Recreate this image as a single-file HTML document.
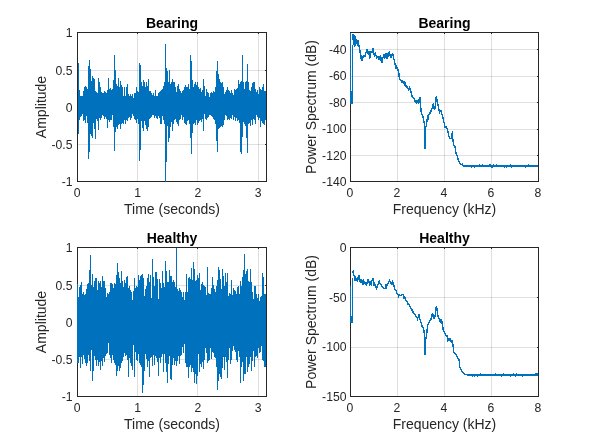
<!DOCTYPE html>
<html><head><meta charset="utf-8"><style>
html,body{margin:0;padding:0;background:#fff;width:595px;height:446px;overflow:hidden}
svg{display:block;will-change:transform}
text{font-family:"Liberation Sans",sans-serif;fill:#262626}
</style></head><body>
<svg width="595" height="446" viewBox="0 0 595 446">
<rect width="595" height="446" fill="#fff"/>
<path d="M137.5 33V181M197.5 33V181M258.5 33V181" stroke="#262626" stroke-opacity="0.15" stroke-width="1" fill="none"/>
<path d="M78 144.5H266M78 107.5H266M78 70.5H266" stroke="#262626" stroke-opacity="0.15" stroke-width="1" fill="none"/>
<rect x="77.5" y="32.5" width="189" height="149" fill="none" stroke="#262626" stroke-width="1"/>
<path d="M137.5 33v1M197.5 33v1M258.5 33v1M266 144.5h-1M266 107.5h-1M266 70.5h-1" stroke="#262626" stroke-width="1" fill="none"/>
<path d="M78.5 63V134M79.5 90V120M80.5 96V117M81.5 96V116M82.5 96V114M83.5 91V121M84.5 87V120M85.5 86V123M86.5 87V116M87.5 89V123M88.5 66V159M89.5 60V152M90.5 69V134M91.5 81V136M92.5 76V138M93.5 78V123M94.5 79V129M95.5 91V139M96.5 92V119M97.5 93V121M98.5 78V130M99.5 82V118M100.5 87V120M101.5 92V118M102.5 93V115M103.5 93V116M104.5 91V119M105.5 92V117M106.5 93V119M107.5 90V128M108.5 78V120M109.5 89V122M110.5 88V120M111.5 90V120M112.5 89V115M113.5 80V127M114.5 55V151M115.5 70V132M116.5 84V127M117.5 86V129M118.5 78V125M119.5 87V124M120.5 81V129M121.5 85V124M122.5 87V123M123.5 96V124M124.5 87V120M125.5 96V124M126.5 87V120M127.5 84V121M128.5 94V118M129.5 96V117M130.5 94V120M131.5 96V118M132.5 94V114M133.5 98V116M134.5 93V119M135.5 93V120M136.5 87V123M137.5 91V119M138.5 92V124M139.5 63V161M140.5 65V150M141.5 82V121M142.5 86V128M143.5 80V131M144.5 82V121M145.5 87V125M146.5 82V129M147.5 86V131M148.5 79V127M149.5 91V119M150.5 91V118M151.5 93V117M152.5 95V115M153.5 93V115M154.5 96V118M155.5 90V116M156.5 96V118M157.5 96V119M158.5 93V116M159.5 92V118M160.5 91V124M161.5 90V124M162.5 89V116M163.5 86V120M164.5 82V124M165.5 44V182M166.5 68V162M167.5 71V126M168.5 82V142M169.5 70V138M170.5 84V127M171.5 82V122M172.5 79V131M173.5 82V124M174.5 82V120M175.5 87V119M176.5 92V122M177.5 86V124M178.5 84V126M179.5 89V120M180.5 91V119M181.5 93V115M182.5 91V120M183.5 90V117M184.5 87V123M185.5 85V124M186.5 87V125M187.5 87V121M188.5 84V120M189.5 89V124M190.5 55V138M191.5 61V154M192.5 80V133M193.5 87V124M194.5 84V123M195.5 82V125M196.5 85V120M197.5 82V125M198.5 87V123M199.5 89V121M200.5 88V120M201.5 92V122M202.5 90V119M203.5 79V131M204.5 86V114M205.5 96V119M206.5 89V120M207.5 92V118M208.5 93V117M209.5 97V115M210.5 93V115M211.5 92V116M212.5 93V117M213.5 91V119M214.5 92V120M215.5 87V124M216.5 71V141M217.5 61V152M218.5 74V129M219.5 79V128M220.5 82V127M221.5 83V126M222.5 82V127M223.5 87V125M224.5 94V120M225.5 92V115M226.5 90V116M227.5 87V120M228.5 90V119M229.5 91V120M230.5 93V118M231.5 90V119M232.5 93V115M233.5 95V120M234.5 89V117M235.5 90V121M236.5 89V118M237.5 88V121M238.5 80V120M239.5 84V123M240.5 82V152M241.5 81V154M242.5 55V137M243.5 82V122M244.5 89V124M245.5 82V126M246.5 81V138M247.5 64V153M248.5 82V124M249.5 90V123M250.5 91V126M251.5 87V120M252.5 83V125M253.5 82V119M254.5 82V120M255.5 89V124M256.5 92V115M257.5 90V117M258.5 94V120M259.5 87V118M260.5 89V127M261.5 90V121M262.5 87V123M263.5 84V124M264.5 91V125M265.5 91V120" stroke="#0072bd" stroke-width="1" fill="none"/>
<text x="77.20" y="197" text-anchor="middle" font-size="12.2">0</text>
<text x="137.53" y="197" text-anchor="middle" font-size="12.2">1</text>
<text x="197.86" y="197" text-anchor="middle" font-size="12.2">2</text>
<text x="258.19" y="197" text-anchor="middle" font-size="12.2">3</text>
<text x="72.5" y="185.80" text-anchor="end" font-size="12.2">-1</text>
<text x="72.5" y="148.80" text-anchor="end" font-size="12.2">-0.5</text>
<text x="72.5" y="111.80" text-anchor="end" font-size="12.2">0</text>
<text x="72.5" y="74.80" text-anchor="end" font-size="12.2">0.5</text>
<text x="72.5" y="36.80" text-anchor="end" font-size="12.2">1</text>
<text x="172.0" y="27.5" text-anchor="middle" font-size="14" font-weight="bold" style="fill:#000">Bearing</text>
<text x="172.0" y="214" text-anchor="middle" font-size="14">Time (seconds)</text>
<text transform="translate(46 107.0) rotate(-90)" text-anchor="middle" font-size="14">Amplitude</text>
<path d="M137.5 248V396M197.5 248V396M258.5 248V396" stroke="#262626" stroke-opacity="0.15" stroke-width="1" fill="none"/>
<path d="M78 359.5H266M78 322.5H266M78 285.5H266" stroke="#262626" stroke-opacity="0.15" stroke-width="1" fill="none"/>
<rect x="77.5" y="247.5" width="189" height="149" fill="none" stroke="#262626" stroke-width="1"/>
<path d="M137.5 248v1M197.5 248v1M258.5 248v1M266 359.5h-1M266 322.5h-1M266 285.5h-1" stroke="#262626" stroke-width="1" fill="none"/>
<path d="M77.5 284V363M78.5 297V363M79.5 287V357M80.5 285V368M81.5 282V357M82.5 294V364M83.5 292V355M84.5 295V359M85.5 294V363M86.5 289V366M87.5 284V363M88.5 283V355M89.5 270V361M90.5 255V371M91.5 285V350M92.5 274V381M93.5 287V371M94.5 281V356M95.5 278V360M96.5 278V366M97.5 290V360M98.5 281V366M99.5 283V362M100.5 281V370M101.5 287V361M102.5 276V366M103.5 281V358M104.5 281V362M105.5 288V356M106.5 297V354M107.5 293V353M108.5 294V343M109.5 292V355M110.5 283V358M111.5 283V363M112.5 284V355M113.5 288V360M114.5 283V363M115.5 284V365M116.5 275V376M117.5 263V371M118.5 272V366M119.5 278V371M120.5 283V368M121.5 271V363M122.5 281V361M123.5 287V357M124.5 280V353M125.5 283V356M126.5 277V355M127.5 276V360M128.5 288V377M129.5 286V358M130.5 290V363M131.5 292V366M132.5 300V370M133.5 291V345M134.5 278V377M135.5 288V352M136.5 286V360M137.5 287V361M138.5 275V354M139.5 280V363M140.5 276V365M141.5 275V367M142.5 274V393M143.5 278V385M144.5 296V371M145.5 289V354M146.5 286V359M147.5 278V367M148.5 274V361M149.5 282V377M150.5 275V358M151.5 298V357M152.5 259V366M153.5 277V355M154.5 286V365M155.5 272V356M156.5 272V358M157.5 279V362M158.5 299V376M159.5 279V358M160.5 283V363M161.5 288V357M162.5 271V354M163.5 283V372M164.5 287V354M165.5 261V363M166.5 271V372M167.5 282V383M168.5 282V364M169.5 270V356M170.5 276V379M171.5 276V380M172.5 282V365M173.5 280V358M174.5 282V365M175.5 287V361M176.5 248V366M177.5 289V361M178.5 291V356M179.5 288V364M180.5 290V356M181.5 292V355M182.5 297V347M183.5 292V353M184.5 300V344M185.5 292V363M186.5 274V367M187.5 292V367M188.5 278V378M189.5 277V367M190.5 279V365M191.5 268V372M192.5 280V368M193.5 262V372M194.5 269V383M195.5 281V374M196.5 280V384M197.5 275V376M198.5 278V354M199.5 273V372M200.5 290V364M201.5 284V367M202.5 282V362M203.5 285V369M204.5 286V360M205.5 287V348M206.5 295V353M207.5 267V363M208.5 293V361M209.5 294V360M210.5 294V348M211.5 288V359M212.5 277V352M213.5 285V353M214.5 289V357M215.5 292V358M216.5 286V367M217.5 280V390M218.5 267V381M219.5 270V374M220.5 279V377M221.5 289V379M222.5 269V368M223.5 276V357M224.5 286V370M225.5 273V357M226.5 282V362M227.5 273V378M228.5 296V360M229.5 293V348M230.5 294V364M231.5 280V360M232.5 295V351M233.5 288V346M234.5 290V350M235.5 291V352M236.5 294V360M237.5 287V362M238.5 286V351M239.5 294V357M240.5 281V383M241.5 286V367M242.5 277V362M243.5 270V381M244.5 254V374M245.5 274V374M246.5 271V357M247.5 269V372M248.5 281V367M249.5 282V364M250.5 269V357M251.5 282V371M252.5 292V361M253.5 299V351M254.5 286V367M255.5 286V357M256.5 294V356M257.5 298V358M258.5 294V348M259.5 301V353M260.5 297V352M261.5 296V346M262.5 273V360M263.5 277V361M264.5 294V367M265.5 294V367" stroke="#0072bd" stroke-width="1" fill="none"/>
<text x="77.20" y="412" text-anchor="middle" font-size="12.2">0</text>
<text x="137.53" y="412" text-anchor="middle" font-size="12.2">1</text>
<text x="197.86" y="412" text-anchor="middle" font-size="12.2">2</text>
<text x="258.19" y="412" text-anchor="middle" font-size="12.2">3</text>
<text x="72.5" y="400.80" text-anchor="end" font-size="12.2">-1</text>
<text x="72.5" y="363.80" text-anchor="end" font-size="12.2">-0.5</text>
<text x="72.5" y="326.80" text-anchor="end" font-size="12.2">0</text>
<text x="72.5" y="289.80" text-anchor="end" font-size="12.2">0.5</text>
<text x="72.5" y="251.80" text-anchor="end" font-size="12.2">1</text>
<text x="172.0" y="242.5" text-anchor="middle" font-size="14" font-weight="bold" style="fill:#000">Healthy</text>
<text x="172.0" y="429" text-anchor="middle" font-size="14">Time (seconds)</text>
<text transform="translate(46 322.0) rotate(-90)" text-anchor="middle" font-size="14">Amplitude</text>
<path d="M397.5 33V181M444.5 33V181M491.5 33V181" stroke="#262626" stroke-opacity="0.15" stroke-width="1" fill="none"/>
<path d="M351 155.5H538M351 129.5H538M351 102.5H538M351 76.5H538M351 49.5H538" stroke="#262626" stroke-opacity="0.15" stroke-width="1" fill="none"/>
<rect x="350.5" y="32.5" width="188" height="149" fill="none" stroke="#262626" stroke-width="1"/>
<path d="M397.5 33v1M444.5 33v1M491.5 33v1M538 155.5h-1M538 129.5h-1M538 102.5h-1M538 76.5h-1M538 49.5h-1" stroke="#262626" stroke-width="1" fill="none"/>
<path d="M350.5,33V104M351.5,91V104M352.5,45V104" stroke="#0072bd" stroke-width="1" fill="none"/><path d="M353.0,34.0 353.4,44.8 353.8,34.8 354.4,46.5 354.8,35.6 355.3,46.4 355.7,36.3 356.1,44.3 356.7,40.2 357.1,40.8 357.5,45.5 357.9,41.9 358.4,41.3 358.9,46.9 359.5,45.4 360.0,52.5 360.4,52.7 360.8,57.2 361.1,58.4 361.5,54.9 361.8,56.1 362.2,60.6 362.4,59.9 362.8,56.8 363.1,57.1 363.8,55.7 364.5,56.4 365.1,56.4 365.8,53.4 366.5,50.7 367.1,49.0 367.5,53.3 367.8,53.2 368.5,53.9 368.9,51.5 369.2,53.4 369.8,58.6 370.2,53.1 370.5,51.9 371.2,52.6 371.8,51.5 372.5,51.9 373.2,48.0 373.6,52.5 373.9,53.7 374.5,56.9 375.2,53.2 375.9,55.2 376.6,57.7 377.2,57.1 377.9,56.5 378.6,57.3 379.2,59.9 379.6,56.4 379.9,57.4 380.3,61.3 380.7,55.4 381.3,61.8 381.7,56.6 382.1,62.5 382.6,60.4 383.0,56.7 383.4,58.2 383.9,54.3 384.6,59.1 385.3,56.3 386.0,53.1 386.6,56.4 387.0,59.4 387.4,53.9 388.0,54.9 388.7,56.7 389.3,51.3 390.0,55.0 390.7,58.2 391.3,55.1 392.0,54.4 392.7,53.8 393.4,57.1 394.0,59.4 394.7,62.5 395.4,66.1 396.0,68.2 396.7,66.3 397.4,68.9 398.1,70.1 398.7,71.8 399.4,78.5 400.1,79.2 400.7,80.0 401.4,80.9 402.1,82.5 402.8,81.3 403.4,83.2 404.1,82.2 404.8,84.2 405.5,83.0 406.1,86.2 406.8,86.3 407.5,88.4 408.1,89.1 408.8,90.0 409.5,86.6 410.2,89.9 410.8,91.3 412.1,96.2 413.4,97.7 414.8,99.6 415.5,102.7 416.1,100.1 416.8,102.8 417.5,101.6 418.1,102.4 418.8,99.1 419.5,102.5 420.2,96.9 420.4,104.5 420.8,107.9 421.5,114.0 422.2,115.3 422.8,116.0 423.5,119.3 424.2,123.2 424.6,126.1 424.9,148.6 425.5,127.5 426.2,126.2 426.9,121.3 427.6,115.3 428.0,120.1 428.5,115.7 428.9,114.9 429.6,113.8 430.9,111.2 431.6,109.6 432.3,107.6 432.9,104.9 433.3,104.3 433.9,108.6 434.3,106.9 434.7,109.6 435.2,106.1 436.0,99.8 436.3,96.2 437.0,100.7 437.6,103.5 438.3,106.8 439.0,110.1 439.7,112.2 440.3,111.4 441.0,110.4 441.7,113.4 442.7,116.0 443.7,121.7 444.4,123.7 445.0,127.0 445.7,126.5 446.4,127.7 447.0,128.9 447.7,130.4 448.4,133.5 449.1,137.1 449.7,138.0 450.4,138.4 451.7,138.2 452.4,131.3 452.8,139.0 453.8,145.1 454.4,146.5 455.1,147.0 455.8,152.5 457.1,155.3 457.6,156.3 458.1,159.6 458.6,161.0 459.1,161.8 459.6,163.5 460.1,163.6 461.1,164.5 462.1,164.0 462.6,165.1 463.6,166.7" stroke="#0072bd" stroke-width="1.4" fill="none" shape-rendering="crispEdges"/><path d="M464.5 165V167M465.5 165V167M466.5 165V167M467.5 165V167M468.5 165V167M469.5 165V167M470.5 165V167M471.5 165V168M472.5 165V167M473.5 165V167M474.5 165V168M475.5 165V167M476.5 165V167M477.5 165V167M478.5 165V167M479.5 164V167M480.5 165V167M481.5 165V167M482.5 164V167M483.5 165V167M484.5 165V167M485.5 165V167M486.5 165V167M487.5 165V167M488.5 165V167M489.5 164V167M490.5 164V167M491.5 165V168M492.5 165V168M493.5 164V167M494.5 165V167M495.5 165V167M496.5 164V167M497.5 165V167M498.5 165V167M499.5 165V167M500.5 165V167M501.5 165V167M502.5 165V167M503.5 165V167M504.5 165V168M505.5 165V167M506.5 165V168M507.5 165V167M508.5 165V167M509.5 165V167M510.5 164V167M511.5 165V168M512.5 165V167M513.5 165V167M514.5 165V167M515.5 165V167M516.5 165V167M517.5 165V167M518.5 165V167M519.5 165V167M520.5 165V167M521.5 165V167M522.5 165V167M523.5 165V167M524.5 165V167M525.5 165V168M526.5 165V167M527.5 165V167M528.5 164V167M529.5 165V167M530.5 165V167M531.5 165V167M532.5 165V167M533.5 165V167M534.5 165V167M535.5 165V167M536.5 165V167M537.5 165V167" stroke="#0072bd" stroke-width="1" fill="none"/>
<text x="350.00" y="197" text-anchor="middle" font-size="12.2">0</text>
<text x="397.00" y="197" text-anchor="middle" font-size="12.2">2</text>
<text x="444.00" y="197" text-anchor="middle" font-size="12.2">4</text>
<text x="491.00" y="197" text-anchor="middle" font-size="12.2">6</text>
<text x="538.00" y="197" text-anchor="middle" font-size="12.2">8</text>
<text x="346.5" y="186.40" text-anchor="end" font-size="12.2">-140</text>
<text x="346.5" y="159.90" text-anchor="end" font-size="12.2">-120</text>
<text x="346.5" y="133.40" text-anchor="end" font-size="12.2">-100</text>
<text x="346.5" y="106.90" text-anchor="end" font-size="12.2">-80</text>
<text x="346.5" y="80.40" text-anchor="end" font-size="12.2">-60</text>
<text x="346.5" y="53.90" text-anchor="end" font-size="12.2">-40</text>
<text x="444.5" y="27.5" text-anchor="middle" font-size="14" font-weight="bold" style="fill:#000">Bearing</text>
<text x="444.5" y="214" text-anchor="middle" font-size="14">Frequency (kHz)</text>
<text transform="translate(316 107.0) rotate(-90)" text-anchor="middle" font-size="14">Power Spectrum (dB)</text>
<path d="M397.5 248V396M444.5 248V396M491.5 248V396" stroke="#262626" stroke-opacity="0.15" stroke-width="1" fill="none"/>
<path d="M351 347.5H538M351 297.5H538" stroke="#262626" stroke-opacity="0.15" stroke-width="1" fill="none"/>
<rect x="350.5" y="247.5" width="188" height="149" fill="none" stroke="#262626" stroke-width="1"/>
<path d="M397.5 248v1M444.5 248v1M491.5 248v1M538 347.5h-1M538 297.5h-1" stroke="#262626" stroke-width="1" fill="none"/>
<path d="M350.5,286V323M351.5,316V323M352.5,278V323" stroke="#0072bd" stroke-width="1" fill="none"/><path d="M353.0,270.5 353.4,275.6 353.8,275.2 354.4,275.6 355.0,280.8 355.7,277.9 356.4,278.9 357.1,280.4 357.7,277.3 358.4,279.6 359.1,275.4 359.5,279.3 359.8,281.0 360.4,280.5 361.1,282.1 361.8,280.2 362.4,281.6 363.1,284.8 363.8,281.1 364.5,282.8 365.1,282.7 365.8,283.0 366.5,286.1 367.1,282.3 367.8,279.3 368.5,282.3 369.2,282.1 369.8,284.6 370.5,282.8 371.2,283.9 371.8,281.2 372.5,279.7 372.9,278.2 373.5,283.2 373.9,284.9 374.5,283.5 375.2,285.5 375.9,287.4 376.6,288.7 377.2,286.0 377.9,285.1 378.6,283.3 379.2,281.5 379.9,283.2 380.6,283.6 381.3,284.9 381.9,286.3 382.6,286.9 383.3,288.4 383.9,288.9 384.6,288.6 385.3,287.7 386.0,283.7 386.6,286.5 387.3,284.4 388.0,283.7 388.7,282.5 389.3,280.3 390.0,281.9 390.7,283.2 391.3,282.9 392.0,284.2 392.7,281.7 393.4,282.9 394.0,286.5 394.7,288.9 395.4,289.3 396.0,290.5 396.7,292.9 397.4,293.6 398.1,295.0 398.7,296.3 399.4,294.8 400.1,295.1 400.7,295.7 401.4,294.9 402.8,294.5 403.4,295.7 404.1,298.3 404.8,297.2 405.5,299.8 406.1,300.1 406.8,301.1 407.5,303.0 408.1,304.2 408.8,304.0 409.5,305.9 410.2,307.0 410.8,307.9 411.5,308.5 412.2,310.4 412.8,311.0 413.5,313.4 414.2,313.4 414.9,314.3 415.5,314.9 416.1,316.5 416.8,317.2 417.5,318.9 418.1,317.5 418.8,313.7 419.5,317.9 420.2,320.0 420.8,321.8 421.5,324.1 422.2,326.8 422.8,327.2 423.5,327.9 424.2,332.5 424.9,340.5 425.1,355.0 425.8,339.4 426.9,331.9 427.6,325.2 428.2,324.6 428.9,323.1 429.6,321.1 430.2,320.6 430.9,319.3 431.6,315.8 432.3,313.9 432.9,314.6 433.6,318.7 434.3,318.4 434.7,317.0 435.6,313.0 436.3,305.8 437.0,309.2 437.6,314.6 438.3,316.9 439.0,318.4 439.7,319.6 440.3,322.0 441.0,320.1 441.4,318.8 441.9,321.8 442.3,324.3 443.0,328.8 443.7,331.5 444.4,332.3 445.0,333.1 445.7,334.7 446.4,335.8 447.0,335.8 447.7,340.8 448.4,340.1 449.1,338.5 449.7,339.5 450.4,338.8 451.1,341.3 451.7,342.0 452.4,340.1 453.1,345.9 453.8,351.9 454.4,353.5 455.1,353.5 455.8,354.7 456.5,355.7 457.1,356.7 457.8,357.8 459.1,359.5 459.6,366.7 460.6,369.0 461.6,370.5 462.6,372.4 463.6,373.3 465.1,374.2 466.6,375.2" stroke="#0072bd" stroke-width="1.4" fill="none" shape-rendering="crispEdges"/><path d="M467.5 374V376M468.5 374V376M469.5 374V376M470.5 374V376M471.5 374V376M472.5 374V377M473.5 374V376M474.5 374V377M475.5 374V376M476.5 374V376M477.5 374V377M478.5 374V376M479.5 374V376M480.5 373V376M481.5 374V376M482.5 374V376M483.5 374V376M484.5 374V376M485.5 374V376M486.5 374V376M487.5 374V376M488.5 374V376M489.5 374V376M490.5 374V376M491.5 374V376M492.5 374V376M493.5 374V376M494.5 374V376M495.5 373V376M496.5 374V376M497.5 374V376M498.5 374V376M499.5 374V376M500.5 374V376M501.5 374V377M502.5 374V376M503.5 373V376M504.5 374V376M505.5 374V376M506.5 374V376M507.5 374V376M508.5 374V376M509.5 374V376M510.5 374V377M511.5 374V376M512.5 374V376M513.5 373V376M514.5 374V376M515.5 374V377M516.5 373V376M517.5 374V376M518.5 374V376M519.5 374V376M520.5 374V376M521.5 374V376M522.5 374V377M523.5 374V376M524.5 374V376M525.5 374V376M526.5 374V376M527.5 374V376M528.5 374V376M529.5 374V376M530.5 374V376M531.5 374V376M532.5 374V376M533.5 374V376M534.5 374V376M535.5 373V376M536.5 373V376M537.5 373V376" stroke="#0072bd" stroke-width="1" fill="none"/>
<text x="350.00" y="412" text-anchor="middle" font-size="12.2">0</text>
<text x="397.00" y="412" text-anchor="middle" font-size="12.2">2</text>
<text x="444.00" y="412" text-anchor="middle" font-size="12.2">4</text>
<text x="491.00" y="412" text-anchor="middle" font-size="12.2">6</text>
<text x="538.00" y="412" text-anchor="middle" font-size="12.2">8</text>
<text x="346.5" y="400.80" text-anchor="end" font-size="12.2">-150</text>
<text x="346.5" y="350.80" text-anchor="end" font-size="12.2">-100</text>
<text x="346.5" y="301.80" text-anchor="end" font-size="12.2">-50</text>
<text x="346.5" y="251.80" text-anchor="end" font-size="12.2">0</text>
<text x="444.5" y="242.5" text-anchor="middle" font-size="14" font-weight="bold" style="fill:#000">Healthy</text>
<text x="444.5" y="429" text-anchor="middle" font-size="14">Frequency (kHz)</text>
<text transform="translate(316 322.0) rotate(-90)" text-anchor="middle" font-size="14">Power Spectrum (dB)</text>
</svg></body></html>
